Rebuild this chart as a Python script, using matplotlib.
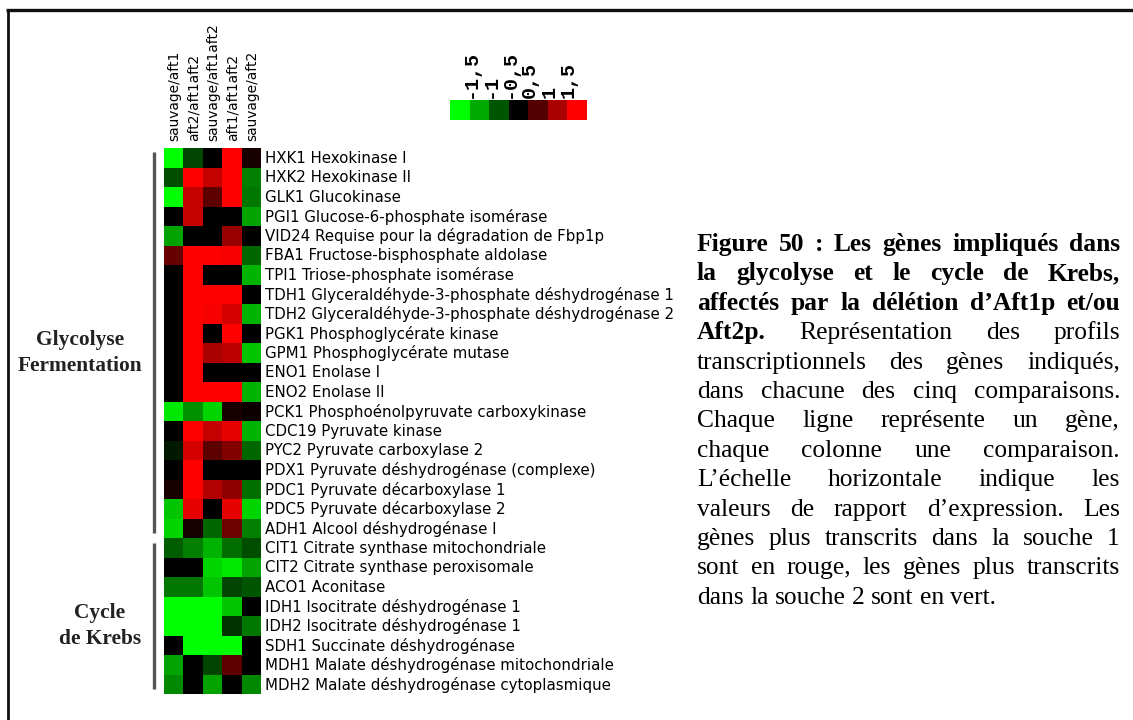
import numpy as np
import matplotlib
matplotlib.use("Agg")
import matplotlib.pyplot as plt
from matplotlib.colors import LinearSegmentedColormap

# ---------------- data ----------------
comparisons = ["sauvage/aft1", "aft2/aft1aft2", "sauvage/aft1aft2",
               "aft1/aft1aft2", "sauvage/aft2"]

genes = [
    "HXK1 Hexokinase I",
    "HXK2 Hexokinase II",
    "GLK1 Glucokinase",
    "PGI1 Glucose-6-phosphate isomérase",
    "VID24 Requise pour la dégradation de Fbp1p",
    "FBA1 Fructose-bisphosphate aldolase",
    "TPI1 Triose-phosphate isomérase",
    "TDH1 Glyceraldéhyde-3-phosphate déshydrogénase 1",
    "TDH2 Glyceraldéhyde-3-phosphate déshydrogénase 2",
    "PGK1 Phosphoglycérate kinase",
    "GPM1 Phosphoglycérate mutase",
    "ENO1 Enolase I",
    "ENO2 Enolase II",
    "PCK1 Phosphoénolpyruvate carboxykinase",
    "CDC19 Pyruvate kinase",
    "PYC2 Pyruvate carboxylase 2",
    "PDX1 Pyruvate déshydrogénase (complexe)",
    "PDC1 Pyruvate décarboxylase 1",
    "PDC5 Pyruvate décarboxylase 2",
    "ADH1 Alcool déshydrogénase I",
    "CIT1 Citrate synthase mitochondriale",
    "CIT2 Citrate synthase peroxisomale",
    "ACO1 Aconitase",
    "IDH1 Isocitrate déshydrogénase 1",
    "IDH2 Isocitrate déshydrogénase 1",
    "SDH1 Succinate déshydrogénase",
    "MDH1 Malate déshydrogénase mitochondriale",
    "MDH2 Malate déshydrogénase cytoplasmique",
]

# log ratio values (columns in the order of `comparisons`)
hxk1  = [-1.5, -0.4, 0.0, 1.5, 0.15]
hxk2  = [-0.45, 1.5, 1.15, 1.5, -0.75]
glk1  = [-1.5, 1.15, 0.55, 1.5, -0.7]
pgi1  = [0.0, 1.15, 0.0, 0.0, -0.95]
vid24 = [-0.95, 0.0, 0.0, 0.9, 0.0]
fba1  = [0.6, 1.5, 1.5, 1.45, -0.6]
tpi1  = [0.0, 1.5, 0.0, 0.0, -1.05]
tdh1  = [0.0, 1.5, 1.5, 1.5, 0.0]
tdh2  = [0.0, 1.5, 1.45, 1.25, -1.05]
pgk1  = [0.0, 1.5, 0.0, 1.5, 0.0]
gpm1  = [0.0, 1.5, 1.0, 1.1, -1.15]
eno1  = [0.0, 1.5, 0.0, 0.0, 0.0]
eno2  = [0.0, 1.5, 1.5, 1.5, -1.05]
pck1  = [-1.35, -0.85, -1.25, 0.15, 0.08]
cdc19 = [0.0, 1.5, 1.15, 1.35, -1.05]
pyc2  = [-0.15, 1.25, 0.55, 0.75, -0.6]
pdx1  = [0.0, 1.5, 0.0, 0.0, 0.0]
pdc1  = [0.15, 1.5, 1.05, 0.85, -0.65]
pdc5  = [-1.15, 1.35, 0.0, 1.35, -1.25]
adh1  = [-1.25, 0.15, -0.6, 0.65, -0.75]
cit1  = [-0.55, -0.75, -1.05, -0.65, -0.45]
cit2  = [0.0, 0.0, -1.25, -1.35, -0.95]
aco1  = [-0.7, -0.7, -1.15, -0.4, -0.5]
idh1  = [-1.5, -1.5, -1.5, -1.15, 0.0]
idh2  = [-1.5, -1.5, -1.5, -0.3, -0.7]
sdh1  = [0.0, -1.5, -1.5, -1.5, 0.0]
mdh1  = [-0.95, 0.0, -0.4, 0.55, 0.0]
mdh2  = [-0.8, 0.0, -0.95, 0.0, -0.8]

values = np.array([hxk1, hxk2, glk1, pgi1, vid24, fba1, tpi1, tdh1, tdh2,
                   pgk1, gpm1, eno1, eno2, pck1, cdc19, pyc2, pdx1, pdc1,
                   pdc5, adh1, cit1, cit2, aco1, idh1, idh2, sdh1, mdh1, mdh2])

legend_levels = [-1.5, -1.0, -0.5, 0.0, 0.5, 1.0, 1.5]
legend_labels = ["-1,5", "-1", "-0,5", "0,5", "1", "1,5"]

group_names = ["Glycolyse\nFermentation", "Cycle\nde Krebs"]
group_sizes = [20, 8]

caption = [
    [("Figure 50 : Les gènes impliqués dans", True)],
    [("la glycolyse et le cycle de Krebs,", True)],
    [("affectés par la délétion d’Aft1p et/ou", True)],
    [("Aft2p.", True), ("Représentation des profils", False)],
    [("transcriptionnels des gènes indiqués,", False)],
    [("dans chacune des cinq comparaisons.", False)],
    [("Chaque ligne représente un gène,", False)],
    [("chaque colonne une comparaison.", False)],
    [("L’échelle horizontale indique les", False)],
    [("valeurs de rapport d’expression. Les", False)],
    [("gènes plus transcrits dans la souche 1", False)],
    [("sont en rouge, les gènes plus transcrits", False)],
    [("dans la souche 2 sont en vert.", False)],
]

# ---------------- figure ----------------
W, H = 1133, 720
fig = plt.figure(figsize=(W / 100, H / 100), dpi=100)
fig.patch.set_facecolor("white")
ax = fig.add_axes([0, 0, 1, 1])
ax.set_xlim(0, W)
ax.set_ylim(H, 0)
ax.axis("off")
renderer = fig.canvas.get_renderer()


def text_width(s, **kw):
    t = ax.text(0, 0, s, **kw)
    w = t.get_window_extent(renderer).width
    t.remove()
    return w


cmap = LinearSegmentedColormap.from_list(
    "gbr", [(0.0, "#00ff00"), (0.5, "#000000"), (1.0, "#ff0000")])

# outer frame (extends beyond the picture on the right / bottom)
ax.plot([6, W + 5], [10, 10], color="#111111", lw=2.4, solid_capstyle="butt")
ax.plot([8, 8], [9, H + 5], color="#111111", lw=2.0, solid_capstyle="butt")

# heatmap
nrow, ncol = values.shape
hx0, hx1, hy0, hy1 = 164, 261, 148, 694
xe = np.linspace(hx0, hx1, ncol + 1)
ye = np.linspace(hy0, hy1, nrow + 1)
ax.pcolormesh(xe, ye, values, cmap=cmap, vmin=-1.5, vmax=1.5)

# gene labels
gfs = 10 * 345 / text_width(genes[-1], fontsize=10, family="DejaVu Sans")
for i, g in enumerate(genes):
    ax.text(265, (ye[i] + ye[i + 1]) / 2 + 0.5, g, ha="left", va="center",
            fontsize=gfs, family="DejaVu Sans", color="black")

# column labels
cfs = 10 * 118 / text_width(comparisons[2], fontsize=10, family="DejaVu Sans")
for j, c in enumerate(comparisons):
    ax.text((xe[j] + xe[j + 1]) / 2 + 1, 141, c, rotation=90, ha="center",
            va="bottom", fontsize=cfs, family="DejaVu Sans", color="black")

# colour scale legend
lx = np.linspace(450, 587, len(legend_levels) + 1)
ax.pcolormesh(lx, [100, 120], [legend_levels], cmap=cmap, vmin=-1.5, vmax=1.5)
for k, lab in enumerate(legend_labels):
    ax.text(lx[k + 1] + 1, 98, lab, rotation=90, ha="center", va="bottom",
            fontsize=14.4, family="Liberation Mono", weight="bold",
            color="black")

# group brackets and labels
start = 0
gl_x = [80, 100]
for gi, (name, n) in enumerate(zip(group_names, group_sizes)):
    top = ye[start] + (4 if gi == 0 else 5)
    bot = ye[start + n] - 5
    ax.plot([154, 154], [top, bot], color="#555555", lw=2.4,
            solid_capstyle="butt")
    start += n

gfs2 = 10 * 125 / text_width("Fermentation", fontsize=10,
                             family="Liberation Serif", weight="bold")
ax.text(gl_x[0], 353, group_names[0], ha="center", va="center",
        fontsize=gfs2, family="Liberation Serif", weight="bold",
        linespacing=1.35, color="#222222")
ax.text(gl_x[1], 626, group_names[1], ha="center", va="center",
        fontsize=gfs2, family="Liberation Serif", weight="bold",
        linespacing=1.35, color="#222222")

# justified caption
cap_x0, cap_x1 = 697, 1120
cfs_cap = 20 * 392 / text_width("sont en rouge, les gènes plus transcrits",
                               fontsize=20, family="Liberation Serif")
space_w = (text_width("a a", fontsize=cfs_cap, family="Liberation Serif")
           - 2 * text_width("a", fontsize=cfs_cap, family="Liberation Serif"))
y0, dy = 251, 29.4
for li, segs in enumerate(caption):
    words = []
    for txt, bold in segs:
        for w in txt.split():
            words.append((w, "bold" if bold else "normal"))
    widths = [text_width(w, fontsize=cfs_cap, family="Liberation Serif",
                         weight=wt) for w, wt in words]
    last = li == len(caption) - 1
    if last or len(words) == 1:
        gap = space_w
    else:
        gap = (cap_x1 - cap_x0 - sum(widths)) / (len(words) - 1)
    x = cap_x0
    y = y0 + li * dy
    for (w, wt), wd in zip(words, widths):
        ax.text(x, y, w, ha="left", va="baseline", fontsize=cfs_cap,
                family="Liberation Serif", weight=wt, color="black")
        x += wd + gap

fig.savefig("out.png", dpi=100, facecolor="white")
